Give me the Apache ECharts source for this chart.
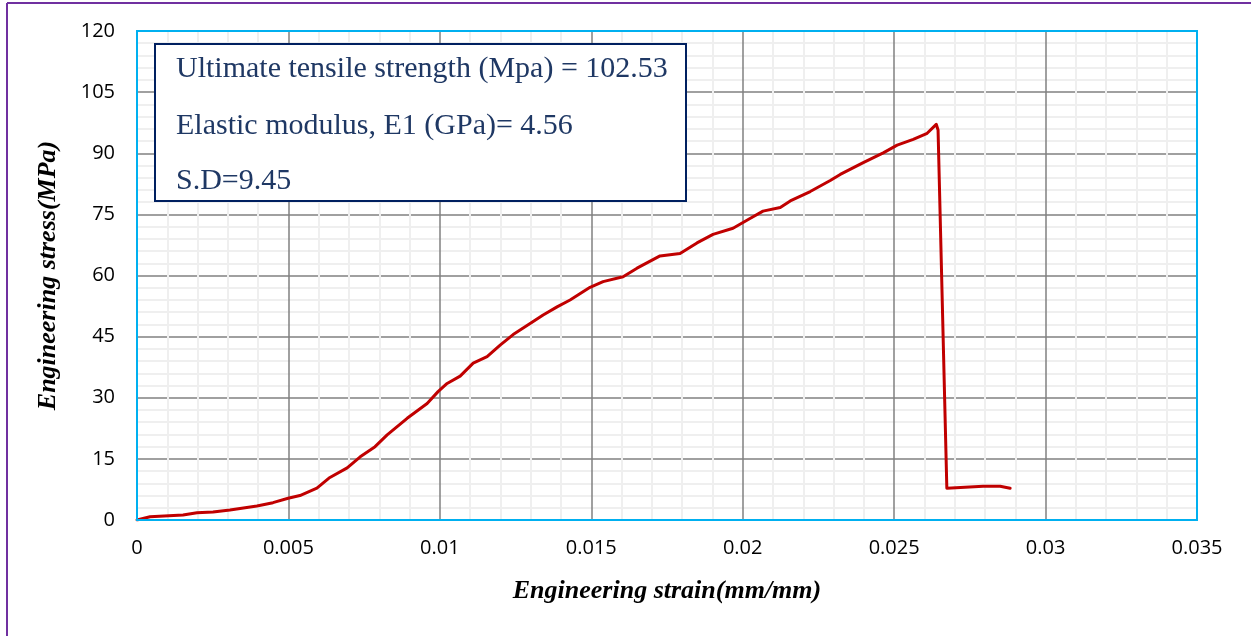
<!DOCTYPE html>
<html>
<head>
<meta charset="utf-8">
<script src="https://cdn.jsdelivr.net/npm/echarts@6/dist/echarts.min.js"></script>
<style>
html,body{margin:0;padding:0;background:#fff;}
#chart{width:1251px;height:636px;}
</style>
</head>
<body>
<div id="chart"></div>
<script>
// Engineering strain (mm/mm)
var strain = [0, 0.00043, 0.00152, 0.00198, 0.00251, 0.00307, 0.00396, 0.00449, 0.00499, 0.00538,
  0.00594, 0.00634, 0.00694, 0.00737, 0.00786, 0.00826, 0.00892, 0.00958, 0.00994, 0.01024,
  0.01067, 0.01110, 0.01156, 0.01199, 0.01242, 0.01298, 0.01341, 0.01387, 0.01430, 0.01496,
  0.01539, 0.01605, 0.01651, 0.01727, 0.01793, 0.01849, 0.01902, 0.01968, 0.02024, 0.02067,
  0.02124, 0.02157, 0.02223, 0.02289, 0.02322, 0.02398, 0.02464, 0.02510, 0.02563, 0.02609,
  0.02639, 0.02645, 0.02674, 0.02794, 0.02850, 0.02883];
// Engineering stress (MPa)
var stress = [0, 0.81, 1.23, 1.79, 1.96, 2.45, 3.44, 4.25, 5.33, 6.01,
  7.80, 10.3, 12.8, 15.5, 18.0, 20.9, 24.96, 28.6, 31.5, 33.5,
  35.3, 38.5, 40.1, 42.9, 45.5, 48.2, 50.3, 52.3, 54.0, 57.1,
  58.5, 59.7, 61.8, 64.8, 65.4, 68.0, 70.1, 71.6, 74.0, 75.8,
  76.7, 78.3, 80.6, 83.3, 84.8, 87.7, 90.1, 92.0, 93.4, 94.9,
  97.1, 95.7, 7.8, 8.3, 8.3, 7.8];
var xTickLabels = ['0', '0.005', '0.01', '0.015', '0.02', '0.025', '0.03', '0.035'];
var yTickLabels = ['0', '15', '30', '45', '60', '75', '90', '105', '120'];
var boxLines = ['Ultimate tensile strength (Mpa) = 102.53', 'Elastic modulus, E1 (GPa)= 4.56', 'S.D=9.45'];
var xTitle = 'Engineering strain(mm/mm)';
var yTitle = 'Engineering stress(MPa)';

var data = strain.map(function (s, i) { return [s, stress[i]]; });

var chart = echarts.init(document.getElementById('chart'), null, {renderer: 'canvas'});
var titleFont = {fontFamily: '"Liberation Serif", "Times New Roman", serif', fontStyle: 'italic', fontWeight: 'bold', fontSize: 26, color: '#000'};
var boxTextStyle = {fontFamily: '"Liberation Serif", "Times New Roman", serif', fontSize: 30, fill: '#1f3864'};
var tickFont = {fontFamily: '"Open Sans", sans-serif', fontSize: 20, color: '#000'};
var blueLine = {show: true, lineStyle: {color: '#00b0f0', width: 2}};

var G = {left: 137, right: 54, top: 31, bottom: 116};

chart.setOption({
  animation: false,
  backgroundColor: '#fff',
  grid: {left: G.left, right: G.right, top: G.top, bottom: G.bottom, show: false},
  xAxis: {
    type: 'value', min: 0, max: 0.035, interval: 0.005,
    name: xTitle, nameLocation: 'middle', nameGap: 58, nameTextStyle: titleFont,
    axisLine: blueLine,
    axisTick: {show: false},
    axisLabel: Object.assign({margin: 18, formatter: function (v) { return xTickLabels[Math.round(v / 0.005)]; }}, tickFont),
    splitLine: {show: true, lineStyle: {color: '#808080', width: 1.5}},
    minorTick: {show: false, splitNumber: 5},
    minorSplitLine: {show: true, lineStyle: {color: '#efefef', width: 2}}
  },
  yAxis: {
    type: 'value', min: 0, max: 120, interval: 15,
    name: yTitle, nameLocation: 'middle', nameGap: 76, nameTextStyle: titleFont,
    axisLine: blueLine,
    axisTick: {show: false},
    axisLabel: Object.assign({margin: 22, formatter: function (v) { return yTickLabels[Math.round(v / 15)]; }}, tickFont),
    splitLine: {show: true, lineStyle: {color: '#808080', width: 1.5}},
    minorTick: {show: false, splitNumber: 5},
    minorSplitLine: {show: true, lineStyle: {color: '#efefef', width: 2}}
  },
  series: [{
    type: 'line', data: data, showSymbol: false, smooth: false,
    lineStyle: {color: '#c00000', width: 3, join: 'round', cap: 'round'}, z: 5
  }],
  graphic: [
    {type: 'rect', shape: {x: G.left, y: G.top, width: 1251 - G.left - G.right, height: 636 - G.top - G.bottom},
      style: {fill: 'none', stroke: '#00b0f0', lineWidth: 2}, z: 40, silent: true},
    {type: 'line', shape: {x1: 7, y1: 3, x2: 1251, y2: 3}, style: {stroke: '#7030a0', lineWidth: 2}, z: 100},
    {type: 'line', shape: {x1: 7, y1: 3, x2: 7, y2: 636}, style: {stroke: '#7030a0', lineWidth: 2}, z: 100},
    {type: 'rect', shape: {x: 155, y: 44, width: 531, height: 157},
      style: {fill: '#fff', stroke: '#002060', lineWidth: 2}, z: 50},
    {type: 'text', x: 176, y: 69, style: Object.assign({text: boxLines[0], verticalAlign: 'middle'}, boxTextStyle), z: 51},
    {type: 'text', x: 176, y: 126, style: Object.assign({text: boxLines[1], verticalAlign: 'middle'}, boxTextStyle), z: 51},
    {type: 'text', x: 176, y: 181, style: Object.assign({text: boxLines[2], verticalAlign: 'middle'}, boxTextStyle), z: 51}
  ]
});
</script>
</body>
</html>
